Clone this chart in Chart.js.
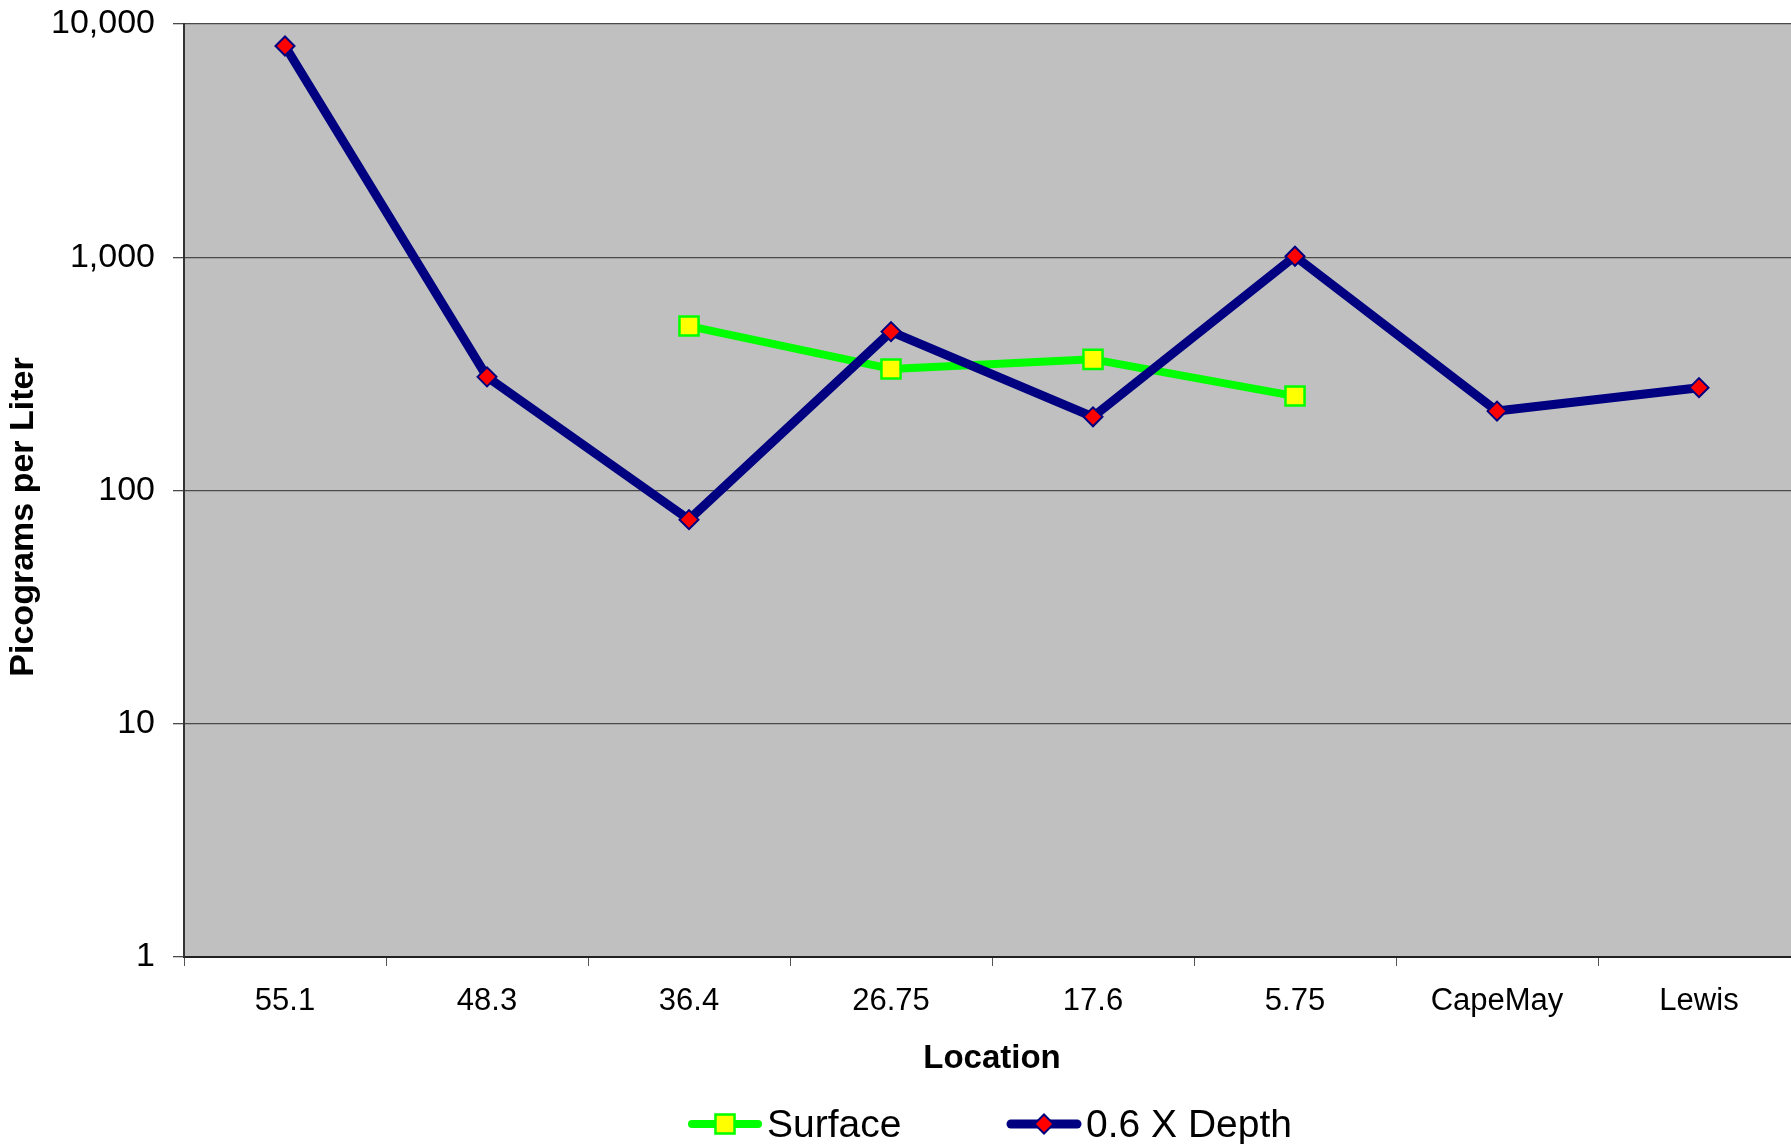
<!DOCTYPE html>
<html>
<head>
<meta charset="utf-8">
<title>Picograms per Liter by Location</title>
<script src="https://cdn.jsdelivr.net/npm/chart.js@4/dist/chart.umd.min.js"></script>
<style>
    html, body { margin: 0; padding: 0; background: #fff; overflow: hidden; }
    /* plot runs a little past the right edge of the picture, as in the original */
    #chart-wrap { width: 1791px; height: 1144px; overflow: hidden; }
</style>
</head>
<body>
<div id="chart-wrap">
    <canvas id="chart-pg" width="1800" height="1144"></canvas>
</div>
<script>
// ===================================================================
// Data
// ===================================================================
const locations = ['55.1', '48.3', '36.4', '26.75', '17.6', '5.75', 'CapeMay', 'Lewis'];
const surfaceValues = [null, null, 507, 332, 365, 254, null, null];
const depthValues = [8050, 307, 75, 480, 207, 1010, 219, 276];
const yTickValues = [1, 10, 100, 1000, 10000];

const seriesLabels = ['Surface', '0.6 X Depth'];
const FONT = "'Liberation Sans', Arial, sans-serif";

document.addEventListener('DOMContentLoaded', () => {
    renderChart();
});

/**
 * Grey plot background + y-axis title + legend (line with marker)
 */
const excelLook = {
    id: 'excelLook',
    beforeDraw(chart) {
        const { ctx, chartArea } = chart;
        ctx.save();
        ctx.fillStyle = '#c0c0c0';
        ctx.fillRect(chartArea.left, chartArea.top, chartArea.right - chartArea.left, chartArea.bottom - chartArea.top);
        ctx.restore();
    },
    afterDraw(chart) {
        const { ctx } = chart;

        // y axis title, rotated
        ctx.save();
        ctx.translate(24, 517);
        ctx.rotate(-Math.PI / 2);
        ctx.font = 'bold 34px ' + FONT;
        ctx.fillStyle = '#000';
        ctx.textAlign = 'center';
        ctx.textBaseline = 'middle';
        ctx.fillText('Picograms per Liter', 0, 0);
        ctx.restore();

        // legend
        const items = [
            { ds: chart.data.datasets[0], x: 692 },
            { ds: chart.data.datasets[1], x: 1011 }
        ];
        const y = 1124;
        items.forEach(({ ds, x }) => {
            ctx.save();
            ctx.strokeStyle = ds.borderColor;
            ctx.lineWidth = ds.borderWidth;
            ctx.lineCap = 'round';
            ctx.beginPath();
            ctx.moveTo(x, y);
            ctx.lineTo(x + 66, y);
            ctx.stroke();

            ctx.fillStyle = ds.pointBackgroundColor;
            ctx.strokeStyle = ds.pointBorderColor;
            ctx.lineWidth = ds.pointBorderWidth;
            ctx.beginPath();
            drawMarker(ctx, ds.pointStyle, ds.pointRadius, x + 33, y);
            ctx.fill();
            ctx.stroke();

            ctx.font = '39px ' + FONT;
            ctx.fillStyle = '#000';
            ctx.textAlign = 'left';
            ctx.textBaseline = 'middle';
            ctx.fillText(ds.label, x + 75, y + 2);
            ctx.restore();
        });
    }
};

/**
 * Same marker shapes as Chart.js uses for 'rect' / 'rectRot'
 */
function drawMarker(ctx, style, r, x, y) {
    if (style === 'rect') {
        const s = r * Math.SQRT1_2;
        ctx.rect(x - s, y - s, 2 * s, 2 * s);
    } else {
        ctx.moveTo(x - r, y);
        ctx.lineTo(x, y - r);
        ctx.lineTo(x + r, y);
        ctx.lineTo(x, y + r);
        ctx.closePath();
    }
}

function renderChart() {
    const canvas = document.getElementById('chart-pg');

    Chart.defaults.color = '#000';
    Chart.defaults.font.family = FONT;

    new Chart(canvas.getContext('2d'), {
        type: 'line',
        data: {
            labels: locations,
            datasets: [
                {
                    label: seriesLabels[0],
                    data: surfaceValues,
                    borderColor: '#00ff00',
                    borderWidth: 8,
                    pointStyle: 'rect',
                    pointRadius: 13.5,
                    pointBorderWidth: 2.5,
                    pointBackgroundColor: '#ffff00',
                    pointBorderColor: '#00ff00',
                    borderJoinStyle: 'round',
                    borderCapStyle: 'round',
                    tension: 0,
                    order: 1
                },
                {
                    label: seriesLabels[1],
                    data: depthValues,
                    borderColor: '#000080',
                    borderWidth: 9,
                    pointStyle: 'rectRot',
                    pointRadius: 9.5,
                    pointBorderWidth: 2,
                    pointBackgroundColor: '#ff0000',
                    pointBorderColor: '#000080',
                    borderJoinStyle: 'round',
                    borderCapStyle: 'round',
                    tension: 0,
                    order: 0
                }
            ]
        },
        options: {
            responsive: false,
            animation: false,
            layout: { autoPadding: false, padding: { top: 24, right: 0, left: 0, bottom: 64 } },
            plugins: {
                legend: { display: false },
                tooltip: { enabled: false }
            },
            scales: {
                x: {
                    type: 'category',
                    offset: true,
                    afterFit: scale => {
                        scale.height = 123;
                        scale.paddingLeft = 0;
                        scale.paddingRight = 0;
                    },
                    grid: {
                        offset: true,
                        drawOnChartArea: false,
                        drawTicks: true,
                        tickLength: 9,
                        color: '#555'
                    },
                    border: { color: '#222', width: 2 },
                    ticks: { font: { size: 31 }, padding: 17, maxRotation: 0, autoSkip: false },
                    title: {
                        display: true,
                        text: 'Location',
                        font: { size: 33, weight: 'bold' },
                        padding: { top: 0, bottom: 1 }
                    }
                },
                y: {
                    type: 'logarithmic',
                    min: yTickValues[0],
                    max: yTickValues[yTickValues.length - 1],
                    afterFit: scale => {
                        // fixed axis width, no extra room above/below the plot
                        scale.width = 184;
                        scale.paddingTop = 0;
                        scale.paddingBottom = 0;
                    },
                    afterBuildTicks: scale => {
                        scale.ticks = yTickValues.map(v => ({ value: v }));
                    },
                    grid: {
                        drawTicks: true,
                        tickLength: 11,
                        color: '#4a4a4a',
                        lineWidth: 1.3
                    },
                    border: { color: '#333', width: 2 },
                    ticks: {
                        font: { size: 34 },
                        padding: 18,
                        callback: v => Number(v).toLocaleString('en-US')
                    }
                }
            }
        },
        plugins: [excelLook]
    });
}
</script>
</body>
</html>
